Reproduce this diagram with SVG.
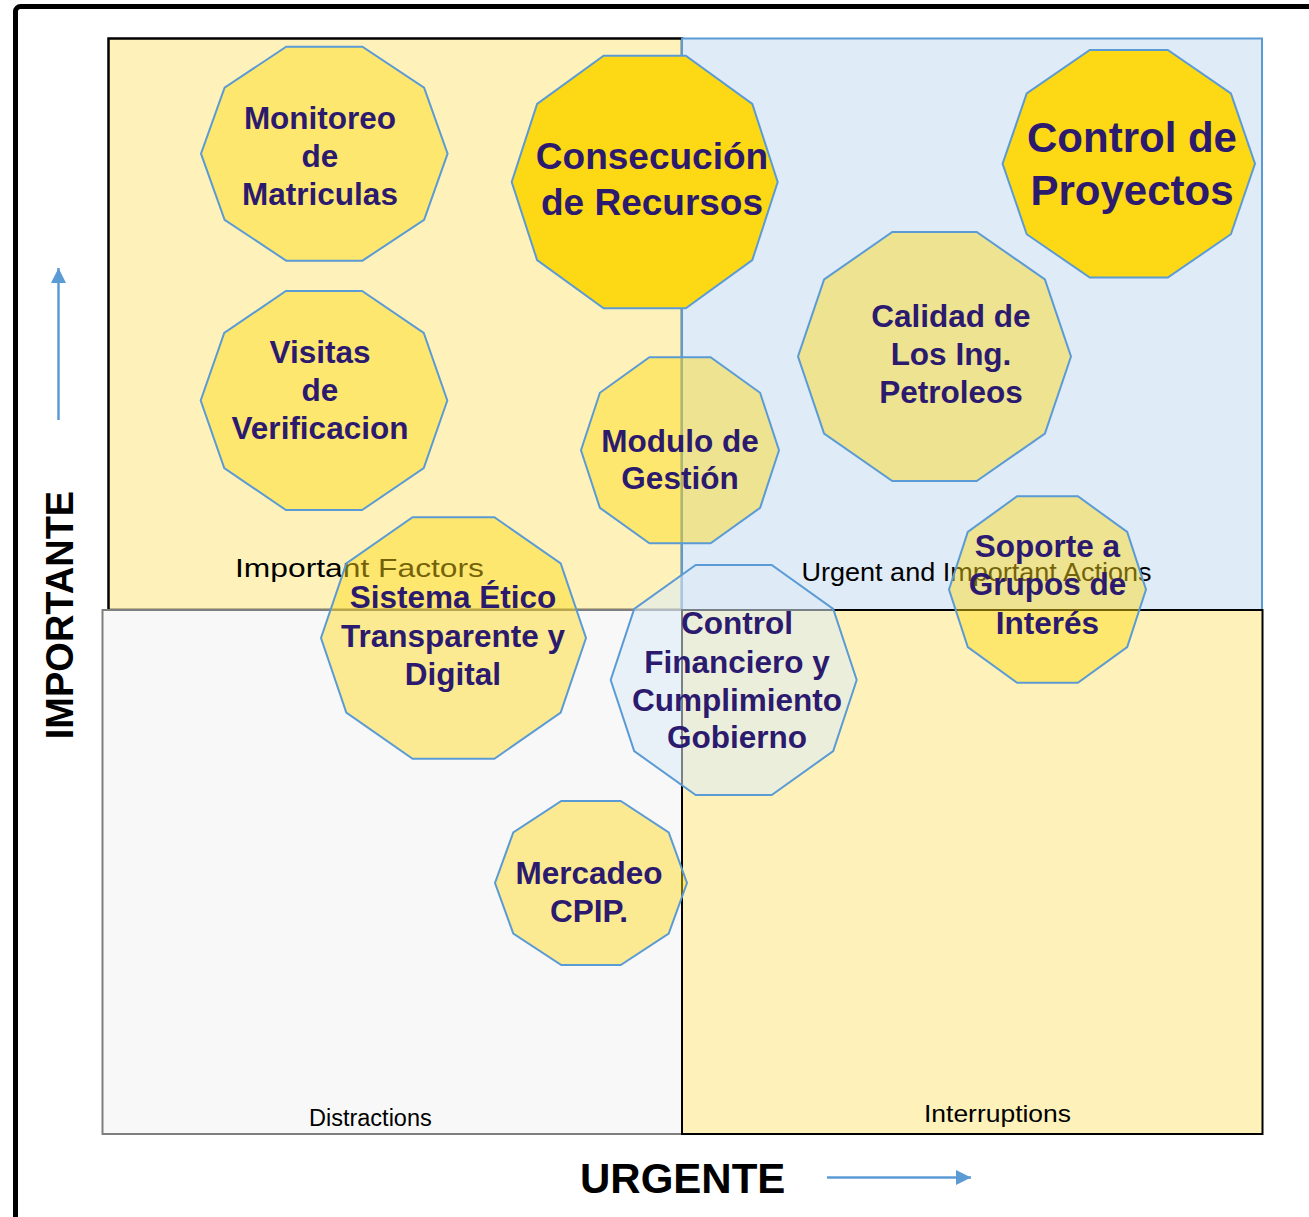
<svg xmlns="http://www.w3.org/2000/svg" width="1309" height="1217" viewBox="0 0 1309 1217">
<style>
.deca{stroke:#5B9BD5;stroke-width:2;stroke-linejoin:miter}
.semi{fill:#FFD914;fill-opacity:0.45}
.solid{fill:#FDD815}
.blue{fill:#DDEBF7;fill-opacity:0.55}
.lbl{font-family:"Liberation Sans",Arial,sans-serif;font-weight:bold;fill:#2B1A6E;text-anchor:middle;font-size:31.5px}
.q{font-family:"Liberation Sans",Arial,sans-serif;fill:#000}
.axis{font-family:"Liberation Sans",Arial,sans-serif;font-weight:bold;fill:#000}
</style>
<defs>
<marker id="ah" viewBox="0 0 10 10" refX="10" refY="5" markerWidth="16" markerHeight="15" markerUnits="userSpaceOnUse" orient="auto">
<path d="M0,0 L10,5 L0,10 Z" fill="#5B9BD5"/>
</marker>
</defs>
<rect x="0" y="0" width="1309" height="1217" fill="#fff"/>
<rect x="15.5" y="6.5" width="1400" height="1300" rx="5" fill="none" stroke="#000" stroke-width="5"/>

<g id="quadrants">
<rect id="q-important" x="108.5" y="38.5" width="573.5" height="571.5" fill="#FEF2BA" stroke="#000" stroke-width="2.5"/>
<rect id="q-urgent-important" x="682" y="38.5" width="580" height="571.5" fill="#DFEBF7" stroke="#5B9BD5" stroke-width="2"/>
<rect id="q-distractions" x="102.5" y="610" width="579.5" height="524" fill="#F8F8F8" stroke="#7F7F7F" stroke-width="2"/>
<rect id="q-interruptions" x="682" y="610" width="580.5" height="524" fill="#FEF2BA" stroke="#000" stroke-width="2"/>
<text class="q" x="235" y="577" font-size="26.5" textLength="249" lengthAdjust="spacingAndGlyphs">Important Factors</text>
<text class="q" x="801.5" y="581" font-size="25" textLength="350" lengthAdjust="spacingAndGlyphs">Urgent and Important Actions</text>
<text class="q" x="309" y="1126" font-size="23.5">Distractions</text>
<text class="q" x="924" y="1122" font-size="24" textLength="147" lengthAdjust="spacingAndGlyphs">Interruptions</text>
</g>

<g id="connectors">
<line x1="58.5" y1="420" x2="58.5" y2="268" stroke="#5B9BD5" stroke-width="2.5" marker-end="url(#ah)"/>
<line x1="827" y1="1177.5" x2="971" y2="1177.5" stroke="#5B9BD5" stroke-width="2.5" marker-end="url(#ah)"/>
</g>

<g id="axis-labels">
<text class="axis" font-size="38" text-anchor="middle" transform="translate(73,615) rotate(-90)">IMPORTANTE</text>
<text class="axis" x="580" y="1193" font-size="42">URGENTE</text>
</g>

<g id="node-monitoreo">
<polygon class="deca semi" points="447.6,153.7 424.1,219.8 362.4,260.7 286.2,260.7 224.6,219.8 201,153.7 224.6,87.6 286.2,46.7 362.4,46.7 424.1,87.6"/>
<text class="lbl"><tspan x="320" y="128.5">Monitoreo</tspan><tspan x="320" y="166.5">de</tspan><tspan x="320" y="204.5">Matriculas</tspan></text>
</g>

<g id="node-visitas">
<polygon class="deca semi" points="447.3,400.5 423.75,468.1 362.1,510 285.9,510 224.25,468.1 200.7,400.5 224.25,332.9 285.9,291 362.1,291 423.75,332.9"/>
<text class="lbl"><tspan x="320" y="363">Visitas</tspan><tspan x="320" y="401">de</tspan><tspan x="320" y="439">Verificacion</tspan></text>
</g>

<g id="node-consecucion">
<polygon class="deca solid" points="777.7,182 752.3,260.1 685.8,308.3 603.6,308.3 537.1,260.1 511.7,182 537.1,103.9 603.6,55.7 685.8,55.7 752.3,103.9"/>
<text class="lbl" style="font-size:37px"><tspan x="652" y="169">Consecución</tspan><tspan x="652" y="215">de Recursos</tspan></text>
</g>

<g id="node-control-proyectos">
<polygon class="deca solid" points="1255,163.8 1230.9,234.2 1167.8,277.6 1089.8,277.6 1026.7,234.2 1002.6,163.8 1026.7,93.4 1089.8,50 1167.8,50 1230.9,93.4"/>
<text class="lbl" style="font-size:42px"><tspan x="1132" y="152">Control de</tspan><tspan x="1132" y="205">Proyectos</tspan></text>
</g>

<g id="node-calidad">
<polygon class="deca semi" points="1071,356.5 1044.9,433.5 976.7,481.1 892.3,481.1 824.1,433.5 798,356.5 824.1,279.5 892.3,231.9 976.7,231.9 1044.9,279.5"/>
<text class="lbl"><tspan x="951" y="327">Calidad de</tspan><tspan x="951" y="365">Los Ing.</tspan><tspan x="951" y="403">Petroleos</tspan></text>
</g>

<g id="node-modulo">
<polygon class="deca semi" points="779,450.3 760.1,507.8 710.6,543.3 649.4,543.3 599.9,507.8 581,450.3 599.9,392.8 649.4,357.3 710.6,357.3 760.1,392.8"/>
<text class="lbl"><tspan x="680" y="452">Modulo de</tspan><tspan x="680" y="489">Gestión</tspan></text>
</g>

<g id="node-soporte">
<polygon class="deca semi" points="1146,589.5 1127.2,647.1 1077.9,682.7 1017.1,682.7 967.8,647.1 949,589.5 967.8,531.9 1017.1,496.3 1077.9,496.3 1127.2,531.9"/>
<text class="lbl"><tspan x="1047.5" y="557">Soporte a</tspan><tspan x="1047.5" y="595">Grupos de</tspan><tspan x="1047.5" y="634">Interés</tspan></text>
</g>

<g id="node-sistema">
<polygon class="deca semi" points="586,638 560.7,712.6 494.4,758.7 412.6,758.7 346.3,712.6 321,638 346.3,563.4 412.6,517.3 494.4,517.3 560.7,563.4"/>
<text class="lbl"><tspan x="453" y="608">Sistema Ético</tspan><tspan x="453" y="647">Transparente y</tspan><tspan x="453" y="685">Digital</tspan></text>
</g>

<g id="node-control-financiero">
<polygon class="deca blue" points="856.7,680 833.2,751.1 771.7,795 695.7,795 634.2,751.1 610.7,680 634.2,608.9 695.7,565 771.7,565 833.2,608.9"/>
<text class="lbl"><tspan x="737" y="634">Control</tspan><tspan x="737" y="672.5">Financiero y</tspan><tspan x="737" y="711">Cumplimiento</tspan><tspan x="737" y="748">Gobierno</tspan></text>
</g>

<g id="node-mercadeo">
<polygon class="deca semi" points="687,883 668.7,933.7 620.7,965 561.3,965 513.3,933.7 495,883 513.3,832.3 561.3,801 620.7,801 668.7,832.3"/>
<text class="lbl"><tspan x="589" y="884">Mercadeo</tspan><tspan x="589" y="922">CPIP.</tspan></text>
</g>
</svg>
